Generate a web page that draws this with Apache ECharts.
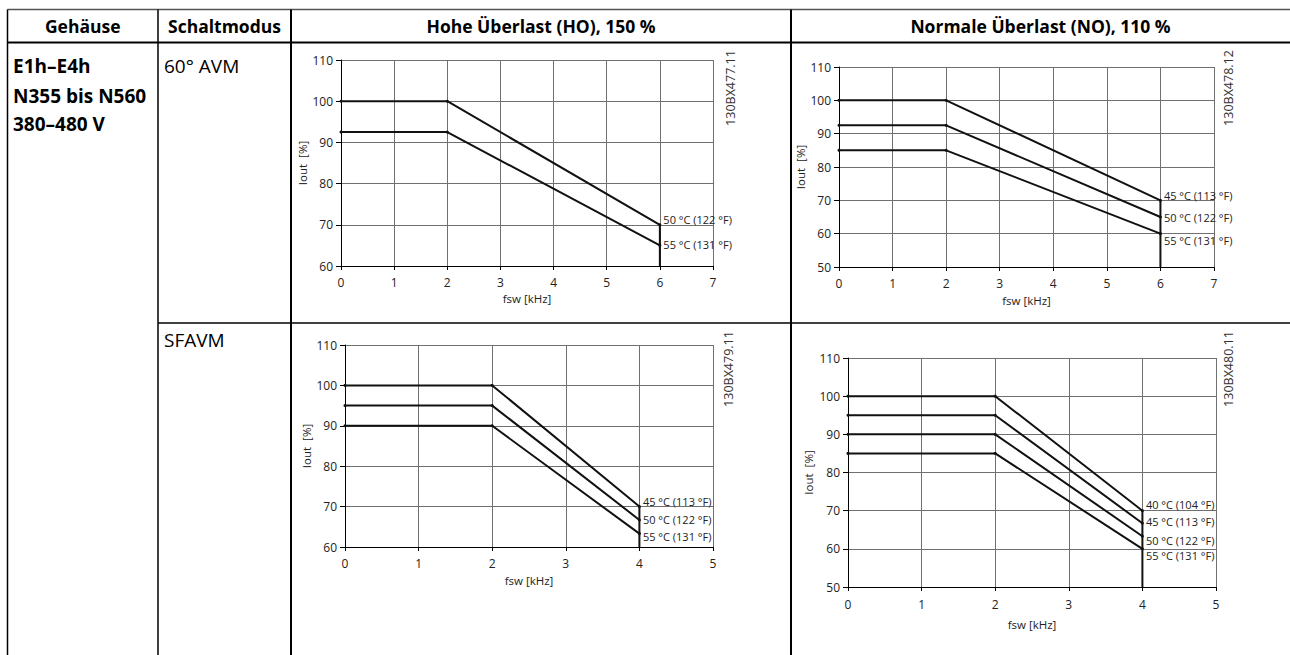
<!DOCTYPE html>
<html>
<head>
<meta charset="utf-8">
<script src="https://cdn.jsdelivr.net/npm/echarts@6/dist/echarts.min.js"></script>
<style>
  html, body { margin: 0; padding: 0; background: #fff; }
  #chart { width: 1290px; height: 655px; }
</style>
</head>
<body>
<div id="chart"></div>
<script>
// Switching frequency points (kHz) for each modulation scheme
const avmFreq = [0, 2, 6];
const sfavmFreq = [0, 2, 4];

// Output current derating (% of nominal), 60° AVM, high overload
const hoAvm50 = [100, 100, 70];
const hoAvm55 = [92.5, 92.5, 65];
// 60° AVM, normal overload
const noAvm45 = [100, 100, 70];
const noAvm50 = [92.5, 92.5, 65];
const noAvm55 = [85, 85, 60];
// SFAVM, high overload
const hoSfavm45 = [100, 100, 70];
const hoSfavm50 = [95, 95, 66.7];
const hoSfavm55 = [90, 90, 63.3];
// SFAVM, normal overload
const noSfavm40 = [100, 100, 70];
const noSfavm45 = [95, 95, 66.7];
const noSfavm50 = [90, 90, 63.3];
const noSfavm55 = [85, 85, 60];

// Ambient temperature labels
const hoAvmLabels = ['50 °C (122 °F)', '55 °C (131 °F)'];
const noAvmLabels = ['45 °C (113 °F)', '50 °C (122 °F)', '55 °C (131 °F)'];
const hoSfavmLabels = ['45 °C (113 °F)', '50 °C (122 °F)', '55 °C (131 °F)'];
const noSfavmLabels = ['40 °C (104 °F)', '45 °C (113 °F)', '50 °C (122 °F)', '55 °C (131 °F)'];

// Axis ranges
const avmFreqRange = [0, 7];
const sfavmFreqRange = [0, 5];
const hoCurrentRange = [60, 110];
const noCurrentRange = [50, 110];

// Drawing numbers and table text
const drawingCodes = ['130BX477.11', '130BX478.12', '130BX479.11', '130BX480.11'];
const headers = ['Gehäuse', 'Schaltmodus', 'Hohe Überlast (HO), 150 %', 'Normale Überlast (NO), 110 %'];
const enclosureLines = ['E1h–E4h', 'N355 bis N560', '380–480 V'];
const modes = ['60° AVM', 'SFAVM'];
const xAxisName = 'fsw [kHz]';
const yAxisName = 'Iout  [%]';

const FONT = '"Open Sans", "Noto Sans", sans-serif';

// Panel layout (positions in px)
const panels = [
  { curves: [hoAvm50, hoAvm55], labels: hoAvmLabels, freq: avmFreq, xr: avmFreqRange, yr: hoCurrentRange,
    box: { left: 341, top: 60, width: 372, height: 206 }, labelDy: [-5, -1], yGap: 29, xGap: 26, xMargin: 10,
    code: [730, 88] },
  { curves: [noAvm45, noAvm50, noAvm55], labels: noAvmLabels, freq: avmFreq, xr: avmFreqRange, yr: noCurrentRange,
    box: { left: 839, top: 67, width: 375, height: 200 }, labelDy: [-5, 0, 7], yGap: 27, xGap: 27, xMargin: 10,
    code: [1228, 88] },
  { curves: [hoSfavm45, hoSfavm50, hoSfavm55], labels: hoSfavmLabels, freq: sfavmFreq, xr: sfavmFreqRange, yr: hoCurrentRange,
    box: { left: 345, top: 345, width: 368, height: 202 }, labelDy: [-5, 0, 3], yGap: 33, xGap: 27, xMargin: 10,
    code: [728, 369] },
  { curves: [noSfavm40, noSfavm45, noSfavm50, noSfavm55], labels: noSfavmLabels, freq: sfavmFreq, xr: sfavmFreqRange, yr: noCurrentRange,
    box: { left: 848, top: 358, width: 368, height: 229 }, labelDy: [-6, -2, 4, 7], yGap: 34, xGap: 31, xMargin: 11,
    code: [1228, 369] }
];

const grids = [], xAxes = [], yAxes = [], series = [];

panels.forEach((p, i) => {
  grids.push(Object.assign({ containLabel: false }, p.box));
  xAxes.push({
    type: 'value', gridIndex: i, min: p.xr[0], max: p.xr[1], interval: 1,
    name: xAxisName, nameLocation: 'middle', nameGap: p.xGap,
    nameTextStyle: { fontFamily: FONT, fontSize: 11.5, color: '#222' },
    axisLine: { show: true, lineStyle: { color: '#000', width: 1 } },
    axisTick: { show: true, length: 4, lineStyle: { color: '#000' } },
    axisLabel: { fontFamily: FONT, fontSize: 12, color: '#222', margin: p.xMargin },
    splitLine: { show: true, lineStyle: { color: '#707070', width: 1 } }
  });
  yAxes.push({
    type: 'value', gridIndex: i, min: p.yr[0], max: p.yr[1], interval: 10,
    name: yAxisName, nameLocation: 'middle', nameGap: p.yGap,
    nameTextStyle: { fontFamily: FONT, fontSize: 11.5, color: '#222' },
    axisLine: { show: true, lineStyle: { color: '#000', width: 1 } },
    axisTick: { show: true, length: 5, lineStyle: { color: '#000' } },
    axisLabel: { fontFamily: FONT, fontSize: 12, color: '#222', margin: 8 },
    splitLine: { show: true, lineStyle: { color: '#707070', width: 1 } }
  });

  const last = p.freq.length - 1;
  p.curves.forEach((vals, k) => {
    series.push({
      type: 'line', xAxisIndex: i, yAxisIndex: i, silent: true, animation: false,
      symbol: 'circle', symbolSize: 3,
      itemStyle: { color: '#111' },
      lineStyle: { color: '#111', width: 2 },
      data: p.freq.map((f, j) => {
        const item = { value: [f, vals[j]] };
        if (j === last) {
          item.label = {
            show: true, position: 'right', distance: 2, offset: [0, p.labelDy[k]],
            formatter: p.labels[k], fontFamily: FONT, fontSize: 11, color: '#222'
          };
        }
        return item;
      })
    });
  });
  // vertical cut-off at the highest switching frequency
  series.push({
    type: 'line', xAxisIndex: i, yAxisIndex: i, silent: true, animation: false,
    symbol: 'none', lineStyle: { color: '#111', width: 2 },
    data: [[p.freq[last], p.curves[0][last]], [p.freq[last], p.yr[0]]]
  });
});

// Table frame and text
const X0 = 7.5, XC1 = 158, XC2 = 291, XC3 = 791, XR = 1290;
const YT = 9.5, YH = 42.5, YR1 = 323, YB = 655;
const line = (x1, y1, x2, y2, w, c) => ({
  type: 'line', silent: true, z: 10,
  shape: { x1, y1, x2, y2 }, style: { stroke: c || '#000', lineWidth: w || 1.5 }
});
const text = (str, x, y, font, align, fill, extra) => Object.assign({
  type: 'text', silent: true, z: 10, x, y,
  style: { text: str, font, fill: fill || '#000', align: align || 'left', verticalAlign: 'middle' }
}, extra || {});

const graphic = [
  line(X0, YT, XR, YT, 1.5, '#555'),
  line(X0, YH, XR, YH, 2),
  line(XC1, YR1, XR, YR1, 1.5),
  line(X0, YT, X0, YB, 1.5),
  line(XC1, YT, XC1, YB, 1.5),
  line(XC2, YT, XC2, YB, 2),
  line(XC3, YT, XC3, YB, 2)
];
const headFont = 'bold 17.5px ' + FONT;
const rowBold = 'bold 19px ' + FONT;
const rowPlain = '19px ' + FONT;
const centers = [(X0 + XC1) / 2, (XC1 + XC2) / 2, (XC2 + XC3) / 2, (XC3 + XR) / 2];
headers.forEach((h, i) => graphic.push(text(h, centers[i], 26, headFont, 'center')));
const encY = [66, 96, 124];
enclosureLines.forEach((t, i) => graphic.push(text(t, 13, encY[i], rowBold)));
graphic.push(text(modes[0], 164, 66, rowPlain));
graphic.push(text(modes[1], 164, 340, rowPlain));
panels.forEach((p, i) => graphic.push(text(drawingCodes[i], p.code[0], p.code[1], '12.5px ' + FONT, 'center', '#333',
  { rotation: Math.PI / 2 })));

const chart = echarts.init(document.getElementById('chart'), null, { renderer: 'svg' });
chart.setOption({
  animation: false,
  backgroundColor: '#fff',
  grid: grids,
  xAxis: xAxes,
  yAxis: yAxes,
  series,
  graphic
});
</script>
</body>
</html>
